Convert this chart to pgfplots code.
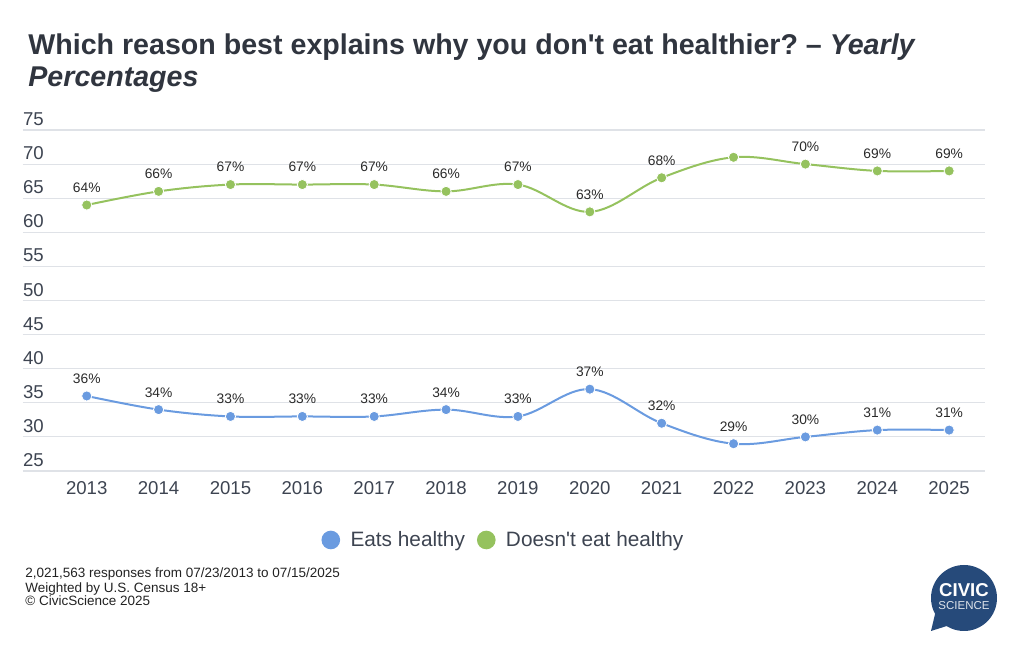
\documentclass[border=0pt]{standalone}
\usepackage{fontspec}
\setmainfont{Liberation Sans}[Ligatures=TeXOff]
\usepackage{pgfplots}
\usepackage{pgfplotstable}
\pgfplotsset{compat=1.18}
\frenchspacing

\definecolor{eats}{HTML}{6A9BE0}
\definecolor{doesnt}{HTML}{95C25E}
\definecolor{gridc}{HTML}{DFE2E7}
\definecolor{titlec}{HTML}{30353F}
\definecolor{labc}{HTML}{3D4451}
\definecolor{datac}{HTML}{2A2A2A}
\definecolor{notec}{HTML}{222222}
\definecolor{logoc}{HTML}{264A7A}

% yearly shares, percent
\pgfplotstableread{
year eats elab doesnt dlab
2013 36 36\% 64 64\%
2014 34 34\% 66 66\%
2015 33 33\% 67 67\%
2016 33 33\% 67 67\%
2017 33 33\% 67 67\%
2018 34 34\% 66 66\%
2019 33 33\% 67 67\%
2020 37 37\% 63 63\%
2021 32 32\% 68 68\%
2022 29 29\% 71 {}
2023 30 30\% 70 70\%
2024 31 31\% 69 69\%
2025 31 31\% 69 69\%
}\yearly

\begin{document}
\frenchspacing
\begin{tikzpicture}
% 1px of the reference = 0.5pt
\useasboundingbox (0,0) rectangle (512pt,-328pt);

\node[anchor=base west, inner sep=0pt, text=titlec,
  font=\fontsize{14.3pt}{16pt}\selectfont\bfseries] at (14pt,-27.5pt)
  {Which reason best explains why you don't eat healthier? – \textit{Yearly}};
\node[anchor=base west, inner sep=0pt, text=titlec,
  font=\fontsize{14.3pt}{16pt}\selectfont\bfseries\itshape] at (14pt,-43.5pt)
  {Percentages};

\begin{axis}[
  at={(11.35pt,-235.5pt)}, anchor=south west,
  scale only axis, width=481.2pt, height=170.5pt,
  xmin=2012.109, xmax=2025.5, ymin=25, ymax=75,
  xtick={2013,...,2025}, ytick={25,30,...,75},
  /pgf/number format/1000 sep={},
  /pgf/number format/assume math mode=true,
  axis line style={draw=none}, major tick length=0pt,
  ymajorgrids, grid style={gridc, line width=0.6pt},
  tick label style={font=\fontsize{9.3pt}{10pt}\selectfont, text=labc, inner sep=0pt},
  yticklabel style={anchor=base west, yshift=2.25pt},
  xticklabel style={anchor=base, yshift=-12pt},
  clip=false,
  point meta=explicit symbolic,
  nodes near coords,
  every node near coord/.append style={anchor=base, yshift=6.3pt, inner sep=0pt,
    text=datac, font=\fontsize{6.9pt}{8pt}\selectfont},
  legend columns=-1,
  legend style={draw=none, fill=none, at={(0.4985,-0.2023)}, anchor=center,
    font=\fontsize{10.4pt}{12pt}\selectfont, text=labc, nodes={inner sep=0pt},
    /tikz/every odd column/.append style={column sep=5.2pt},
    /tikz/every even column/.append style={column sep=6pt}},
]
\addplot[eats, line width=1pt, smooth, tension=0.6, mark=*, mark size=2.55pt,
  mark options={draw=white, line width=0.4pt, fill=eats},
  legend image code/.code={\fill[eats] (4.15pt,0pt) circle (4.15pt);}]
  table[x=year, y=eats, meta=elab] {\yearly};
\addlegendentry{Eats healthy}
\addplot[doesnt, line width=1pt, smooth, tension=0.6, mark=*, mark size=2.55pt,
  mark options={draw=white, line width=0.4pt, fill=doesnt},
  legend image code/.code={\fill[doesnt] (4.15pt,0pt) circle (4.15pt);}]
  table[x=year, y=doesnt, meta=dlab] {\yearly};
\addlegendentry{Doesn't eat healthy}
\end{axis}

\begin{scope}[font=\fontsize{6.75pt}{8pt}\selectfont, text=notec]
\node[anchor=base west, inner sep=0pt] at (12.5pt,-289pt) {2,021,563 responses from 07/23/2013 to 07/15/2025};
\node[anchor=base west, inner sep=0pt] at (12.5pt,-296.5pt) {Weighted by U.S. Census 18+};
\node[anchor=base west, inner sep=0pt] at (12.5pt,-303pt) {© CivicScience 2025};
\end{scope}

% logo
\fill[logoc] (482pt,-299pt) circle (16.5pt);
\fill[logoc] (468pt,-305pt) -- (465.5pt,-315.5pt) -- (475pt,-312.5pt) -- cycle;
\node[anchor=base, inner sep=0pt, text=white, font=\fontsize{9.3pt}{10pt}\selectfont\bfseries] at (482pt,-298.5pt) {CIVIC};
\node[anchor=base, inner sep=0pt, text=white!85!logoc, font=\fontsize{5.75pt}{6pt}\selectfont] at (482pt,-305pt) {SCIENCE};
\end{tikzpicture}
\end{document}
